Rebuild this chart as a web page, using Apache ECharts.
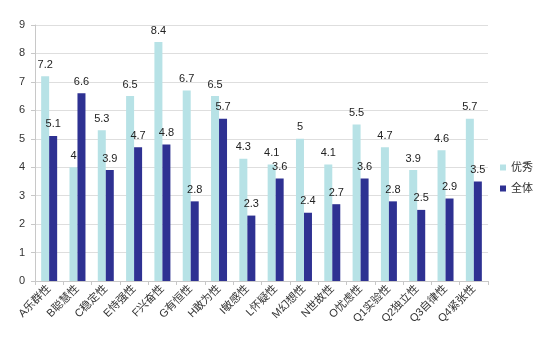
<!DOCTYPE html>
<html>
<head>
<meta charset="utf-8">
<script src="https://cdn.jsdelivr.net/npm/echarts@6/dist/echarts.min.js"></script>
<style>html,body{margin:0;padding:0;background:#fff}#c{width:560px;height:340px}</style>
</head>
<body>
<div id="c"></div>
<script>
// 16PF factor names
var categories = ['A乐群性','B聪慧性','C稳定性','E恃强性','F兴奋性','G有恒性','H敢为性','I敏感性','L怀疑性','M幻想性','N世故性','O忧虑性','Q1实验性','Q2独立性','Q3自律性','Q4紧张性'];
// group means
var excellent = [7.2, 4, 5.3, 6.5, 8.4, 6.7, 6.5, 4.3, 4.1, 5, 4.1, 5.5, 4.7, 3.9, 4.6, 5.7];
var overall = [5.1, 6.6, 3.9, 4.7, 4.8, 2.8, 5.7, 2.3, 3.6, 2.4, 2.7, 3.6, 2.8, 2.5, 2.9, 3.5];
var seriesNames = ['优秀', '全体'];

var font = '"Liberation Sans", Arial, "Noto Sans CJK SC", sans-serif';
var chart = echarts.init(document.getElementById('c'));
var labelStyle = {show: true, position: 'top', color: '#222', fontSize: 11, fontFamily: font, distance: 6};
chart.setOption({
  animation: false,
  textStyle: {fontFamily: font},
  grid: {left: 35, right: 72, top: 25, bottom: 59},
  legend: {
    orient: 'vertical', right: 22, top: 157, itemWidth: 6, itemHeight: 6, itemGap: 10,
    icon: 'rect', textStyle: {fontSize: 11, color: '#333', fontFamily: font},
    data: seriesNames
  },
  xAxis: {
    type: 'category', data: categories,
    axisLine: {lineStyle: {color: '#c8c8c8'}},
    axisTick: {show: true, length: 4, lineStyle: {color: '#c8c8c8'}},
    axisLabel: {rotate: 45, fontSize: 11, color: '#333', interval: 0, margin: 6, fontFamily: font}
  },
  yAxis: {
    type: 'value', min: 0, max: 9, interval: 1,
    axisLine: {show: true, lineStyle: {color: '#c8c8c8'}},
    axisTick: {show: true, length: 4, lineStyle: {color: '#c8c8c8'}},
    axisLabel: {fontSize: 11, color: '#333', margin: 10},
    splitLine: {lineStyle: {color: '#dedede'}}
  },
  series: [
    {name: seriesNames[0], type: 'bar', data: excellent, barWidth: 8, barGap: 0,
     itemStyle: {color: '#b7e2e6'}, label: labelStyle},
    {name: seriesNames[1], type: 'bar', data: overall, barWidth: 8, barGap: 0,
     itemStyle: {color: '#2e3192'}, label: labelStyle}
  ]
});
</script>
</body>
</html>
